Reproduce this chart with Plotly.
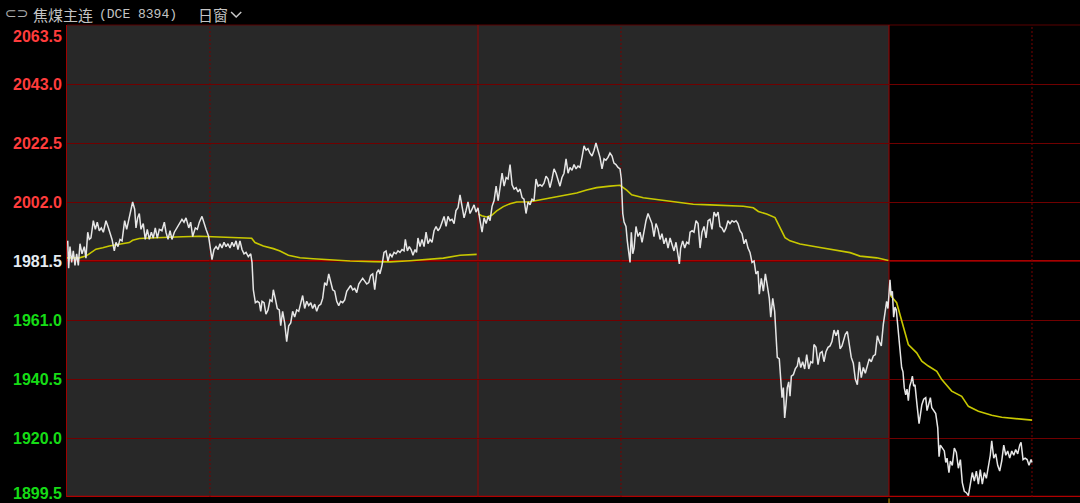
import plotly.graph_objects as go

# ---------------- data (minutes from first session open, price) ----------------
price_t = [0.6,1.4,2.5,3.9,5.3,6.7,8.1,9.5,10.9,12.6,14.5,15.9,17.4,18.7,20.1,22.1,23.8,25.4,27.1,28.8,
 30.5,32.7,34.4,36.1,37.8,39.7,41.1,42.8,44.5,46.2,48.4,50.1,51.8,53.7,55.1,56.8,57.9,59.3,60.7,62.1,
 64.0,65.7,67.4,69.1,70.8,72.4,74.1,75.8,77.5,79.7,81.7,83.1,84.8,86.5,88.1,90.1,92.1,94.3,96.5,98.2,
 99.9,102.2,103.8,105.5,107.7,109.4,111.1,113.3,115.0,116.7,118.9,120.6,121.7,123.4,125.1,126.8,128.4,130.1,131.8,133.5,
 135.1,136.8,138.5,140.2,141.9,143.5,145.2,146.9,148.6,150.3,152.2,154.2,155.3,156.4,158.1,159.7,161.4,162.6,163.7,165.4,
 167.0,168.7,170.4,172.1,173.2,174.8,176.5,178.2,179.4,181.0,182.7,184.4,186.1,187.8,189.4,191.1,192.8,194.5,196.2,197.8,
 199.5,201.2,202.9,204.6,206.2,207.9,209.6,211.3,213.0,214.6,216.3,218.0,219.7,221.3,223.0,224.7,226.4,228.1,229.7,231.4,
 233.1,234.8,236.5,238.1,239.8,241.5,243.2,244.9,246.5,248.2,249.9,251.6,253.3,254.9,256.6,258.3,260.0,261.6,262.7,264.4,
 266.1,267.8,269.4,271.1,272.8,274.5,276.2,277.8,279.5,281.2,282.9,284.0,285.7,287.3,288.8,290.4,292.1,293.4,294.6,296.3,
 298.0,299.7,301.4,303.0,304.7,306.4,308.1,309.8,311.4,313.1,314.8,316.5,318.2,319.8,321.5,323.2,324.9,326.5,328.2,329.9,
 331.6,333.3,334.9,336.6,338.3,340.0,341.7,343.3,345.0,
 346.7,348.4,350.1,351.8,353.5,355.1,356.8,358.5,360.2,361.9,363.5,365.2,366.9,368.6,370.2,371.9,373.6,375.3,377.0,378.6,
 380.3,382.0,383.6,385.3,387.0,388.7,390.3,392.0,393.7,395.4,397.1,398.7,400.4,402.1,403.8,405.4,407.1,408.8,410.5,412.2,
 413.8,415.5,417.2,418.9,420.6,422.2,423.9,425.6,427.3,428.9,430.6,432.3,434.0,435.7,437.3,439.0,440.7,442.4,444.0,445.7,
 447.4,449.1,450.8,452.4,454.1,455.8,457.5,459.1,460.8,462.5,464.2,465.3,465.9,466.5,467.6,469.2,470.3,471.5,472.6,473.7,
 474.9,476.0,477.6,479.3,481.0,482.7,484.3,486.0,487.7,489.4,491.0,492.7,494.4,496.1,497.8,499.4,501.1,502.8,504.5,506.2,
 507.8,509.5,511.2,512.9,514.0,515.1,516.8,518.5,520.2,521.9,523.0,524.7,526.3,528.0,529.7,531.4,533.0,534.7,536.4,538.1,
 539.7,541.4,543.1,544.8,546.5,548.1,549.8,551.5,553.2,554.8,556.5,558.2,559.9,561.6,563.2,564.9,566.6,568.3,569.9,571.6,
 573.3,575.0,576.7,578.3,580.0,581.1,582.8,584.5,586.2,587.8,589.5,590.7,592.4,594.0,595.2,596.2,597.9,599.1,600.2,601.3,
 602.4,603.5,604.6,605.8,606.9,608.0,609.7,611.3,613.0,614.2,615.9,617.5,619.2,620.9,622.6,624.3,625.9,627.0,628.7,630.4,
 632.1,633.8,635.4,637.1,638.8,640.5,642.1,643.8,645.5,647.2,648.9,650.5,651.6,653.3,655.0,656.7,658.3,660.0,661.7,663.4,
 665.1,666.7,668.4,670.1,671.8,673.4,675.1,676.8,678.5,680.2,681.8,683.5,685.2,686.9,688.0,689.1,689.8,
 690.8,691.7,692.8,693.9,695.0,696.1,697.3,698.4,699.5,700.6,701.7,702.8,704.0,705.1,706.2,707.4,708.5,709.6,710.7,711.8,
 713.5,715.2,716.3,717.5,719.1,720.8,721.9,723.0,724.7,725.9,727.5,729.2,730.9,732.0,733.1,734.7,736.4,737.6,738.7,740.3,
 741.5,743.1,744.8,746.5,748.2,749.9,751.5,753.2,754.9,756.6,758.2,759.9,761.6,763.3,765.0,766.6,768.3,770.0,771.7,773.4,
 775.0,776.2,777.9,779.6,781.2,782.9,784.6,786.3,788.0,789.6,791.3,793.0,794.7,796.3,798.0,799.7,800.8,802.5,804.2,805.9,
 807.5,809.2,810.0]

price = [1988.5,1979.0,1986.5,1981.0,1985.0,1980.0,1984.0,1980.0,1987.5,1984.0,1986.5,1982.5,1991.5,1989.0,1989.5,1995.5,1992.5,1995.0,1992.0,1993.0,
 1991.5,1995.5,1993.5,1991.0,1989.0,1985.0,1988.0,1986.5,1989.0,1988.5,1995.5,1992.5,1996.0,1999.0,2002.0,1999.5,1993.0,1996.5,1998.0,1992.5,
 1994.5,1989.0,1992.5,1989.0,1991.5,1989.5,1993.0,1989.5,1992.5,1992.0,1995.0,1991.5,1989.0,1992.0,1989.0,1991.5,1993.0,1994.5,1996.0,1995.0,
 1996.5,1993.0,1995.0,1990.0,1993.0,1992.5,1995.0,1997.0,1994.5,1992.5,1990.0,1986.0,1982.0,1985.5,1986.5,1985.5,1987.5,1986.0,1988.0,1986.5,
 1987.5,1986.0,1988.0,1986.5,1988.5,1985.5,1988.5,1985.5,1984.0,1984.5,1983.0,1984.0,1981.0,1971.5,1967.0,1967.5,1967.0,1964.0,1967.5,1967.0,
 1963.0,1964.5,1968.0,1967.5,1971.5,1968.5,1965.0,1964.5,1959.0,1964.0,1960.0,1953.5,1959.0,1960.0,1964.0,1962.0,1964.5,1964.0,1967.0,1969.5,
 1965.0,1967.5,1966.0,1967.0,1965.0,1966.5,1964.0,1966.0,1966.5,1968.5,1974.0,1973.0,1977.0,1974.5,1971.5,1971.0,1967.5,1966.0,1967.5,1967.0,
 1968.0,1971.0,1972.0,1973.0,1971.5,1972.0,1970.5,1973.5,1974.5,1975.5,1974.5,1973.5,1974.0,1976.5,1977.0,1971.5,1977.5,1978.5,1977.0,1980.0,
 1984.5,1985.0,1981.5,1984.0,1983.0,1984.5,1984.0,1985.0,1984.5,1985.5,1985.0,1989.0,1985.0,1986.5,1985.5,1983.5,1985.5,1984.5,1989.5,1986.5,
 1989.0,1986.5,1991.5,1987.5,1989.0,1988.0,1992.0,1993.5,1992.0,1993.0,1995.0,1997.0,1993.5,1997.0,1995.5,1996.0,1994.5,1999.0,2000.0,2004.5,
 2000.5,1996.5,1999.0,2002.0,1998.0,1999.5,2001.0,1998.5,2000.0,
 1995.5,1991.5,1996.5,1994.5,1997.0,1995.5,2000.5,2002.5,2007.5,2002.5,2007.0,2012.0,2007.5,2010.5,2010.0,2015.0,2008.0,2006.5,2007.0,2005.5,
 2006.5,2003.5,2003.0,1998.0,2002.0,2001.0,2003.0,2002.5,2010.0,2007.5,2008.0,2007.5,2008.5,2011.0,2010.0,2007.0,2010.0,2013.5,2012.0,2009.5,
 2007.5,2010.5,2012.0,2017.0,2012.0,2014.0,2013.0,2015.0,2013.5,2014.5,2014.0,2017.5,2021.5,2020.0,2020.5,2019.0,2018.0,2020.0,2022.5,2020.0,
 2017.5,2013.5,2017.0,2016.5,2017.5,2019.0,2018.0,2015.5,2015.0,2014.0,2013.5,2010.0,2002.0,1998.0,1995.0,1993.5,1988.5,1984.5,1981.0,1991.5,
 1984.0,1986.0,1993.5,1990.0,1991.5,1988.0,1992.0,1995.5,1998.0,1996.0,1994.5,1990.0,1994.5,1992.5,1989.0,1991.0,1987.5,1989.5,1986.0,1989.5,
 1987.5,1985.0,1988.0,1984.0,1980.5,1986.0,1988.5,1986.0,1988.0,1987.5,1991.5,1992.0,1991.5,1995.5,1994.5,1986.0,1991.5,1993.5,1989.5,1995.5,
 1996.0,1992.5,1998.5,1997.0,1998.5,1993.5,1993.0,1991.5,1993.0,1995.5,1994.5,1995.5,1995.0,1995.5,1994.5,1992.0,1991.0,1987.5,1989.0,1986.0,
 1984.5,1981.0,1981.5,1977.0,1978.0,1970.0,1975.5,1971.0,1977.0,1973.0,1968.5,1962.0,1968.5,1964.0,1954.5,1948.0,1947.5,1941.0,1934.0,1937.5,
 1927.0,1931.5,1937.5,1939.5,1934.5,1941.5,1942.0,1944.0,1945.0,1948.0,1944.5,1946.5,1944.0,1949.0,1944.0,1946.5,1946.0,1952.5,1951.5,1945.5,
 1949.5,1950.0,1946.5,1950.0,1951.5,1952.0,1953.5,1957.5,1955.5,1957.5,1951.0,1952.0,1953.5,1956.0,1957.0,1953.0,1948.0,1946.0,1940.5,1938.5,
 1946.5,1941.0,1944.5,1942.5,1945.5,1947.5,1946.5,1948.5,1949.0,1955.5,1953.5,1952.0,1959.5,1964.5,1967.5,1965.0,1969.5,
 1975.0,1969.5,1971.0,1962.0,1965.5,1964.5,1959.5,1953.0,1950.0,1944.5,1943.0,1937.5,1935.0,1937.0,1933.0,1938.0,1939.5,1941.5,1938.0,1938.5,
 1931.5,1925.0,1928.0,1931.5,1933.5,1934.0,1929.5,1931.5,1934.0,1930.5,1929.5,1928.5,1923.5,1913.5,1917.5,1916.5,1915.5,1911.5,1913.0,1908.0,
 1912.0,1910.5,1916.5,1915.0,1909.5,1912.5,1904.5,1901.5,1901.0,1900.0,1904.0,1908.0,1905.0,1908.5,1904.0,1909.0,1904.0,1908.0,1906.0,1910.5,
 1914.0,1919.0,1913.0,1914.5,1910.5,1908.5,1912.0,1917.5,1914.0,1915.5,1913.0,1915.5,1914.0,1916.0,1914.5,1917.5,1918.5,1912.5,1913.0,1912.5,
 1910.5,1912.5,1911.5]

# session average price lines (reset each session)
avg1_t = [0,10.3,15.9,20.1,24.3,30.0,35.5,43.9,52.3,55.1,60.7,69.1,83.1,97.1,111.1,119.4,133.5,150.3,155.0,157.8,
          164.8,173.2,178.8,185.8,195.6,206.7,223.5,237.6,257.1,271.1,287.9,304.7,315.9,329.9,343.9]
avg1 = [1982.6,1982.6,1983.2,1984.4,1985.6,1986.1,1986.7,1987.3,1987.9,1988.7,1989.3,1989.5,1989.6,1989.9,1990.1,1990.0,1989.6,1989.5,1989.4,1987.9,
        1986.7,1985.8,1985.0,1983.5,1982.6,1982.3,1981.8,1981.5,1981.3,1981.2,1981.6,1982.1,1982.5,1983.5,1983.8]
avg2_t = [345.2,348.1,352.3,356.5,360.7,366.2,371.9,377.5,388.6,399.8,413.8,427.8,436.2,444.6,455.8,462.8,464.2,469.8,474.0,483.7,
          497.8,511.8,525.7,539.7,553.8,567.7,576.1,580.3,587.3,594.3,598.5,602.7,606.9,615.3,632.1,657.3,665.6,679.7,689.5]
avg2 = [1997.8,1997.2,1996.8,1997.4,1998.9,2000.4,2001.4,2002.0,2002.1,2003.0,2004.1,2005.1,2006.2,2007.0,2007.5,2007.8,2007.8,2006.1,2004.5,2003.5,
        2002.7,2001.8,2001.2,2001.0,2000.7,2000.5,2000.0,1998.7,1997.8,1996.6,1993.1,1989.6,1988.5,1987.4,1986.2,1984.4,1983.2,1982.6,1981.7]
avg3_t = [690.8,691.7,696.4,699.2,701.9,706.2,713.2,717.5,723.0,730.1,734.3,742.6,751.0,756.6,765.0,776.2,784.6,798.5,810.0]
avg3 = [1971.8,1969.3,1967.0,1962.9,1958.3,1952.5,1949.6,1946.7,1945.0,1943.2,1940.3,1936.3,1934.5,1931.0,1929.3,1927.9,1927.2,1926.7,1926.2]

y_ticks = [1899.5, 1920.0, 1940.5, 1961.0, 1981.5, 2002.0, 2022.5, 2043.0, 2063.5]
prev_close = 1981.5
session_bounds = [345, 690]
night_ends = [120, 465, 810]
shaded_until = 690
x_max = 850.3

title_name = "焦煤主连"
title_code = "(DCE 8394)"
title_period = "日窗"

# ---------------- figure ----------------
fig = go.Figure()

avg_x, avg_y = [], []
for t, v in ((avg1_t, avg1), (avg2_t, avg2), (avg3_t, avg3)):
    avg_x += t + [None]
    avg_y += v + [None]

fig.add_trace(go.Scatter(x=avg_x, y=avg_y, mode="lines", connectgaps=False,
                         line=dict(color="#c8c800", width=1.6), hoverinfo="skip"))
fig.add_trace(go.Scatter(x=price_t, y=price, mode="lines",
                         line=dict(color="#e6e6e6", width=1.5), hoverinfo="skip"))

shapes = []
shapes.append(dict(type="rect", xref="x", yref="paper", x0=0, x1=shaded_until, y0=0, y1=1,
                   fillcolor="#282828", line=dict(width=0), layer="below"))
shapes.append(dict(type="line", xref="paper", yref="y", x0=0, x1=1, y0=prev_close, y1=prev_close,
                   line=dict(color="#a80000", width=2.2), layer="between"))
shapes.append(dict(type="line", xref="paper", yref="y", x0=0, x1=1, y0=y_ticks[0], y1=y_ticks[0],
                   line=dict(color="#b00000", width=2.5), layer="between"))
shapes.append(dict(type="line", xref="paper", yref="paper", x0=0, x1=1, y0=1, y1=1,
                   line=dict(color="#5a0000", width=1), layer="between"))
for b in session_bounds:
    shapes.append(dict(type="line", xref="x", yref="paper", x0=b, x1=b, y0=0, y1=1,
                       line=dict(color="#9a0000", width=1), layer="between"))
for n in night_ends:
    shapes.append(dict(type="line", xref="x", yref="paper", x0=n, x1=n, y0=0, y1=1,
                       line=dict(color="#7a0000", width=1, dash="2px,2px"), layer="between"))
shapes.append(dict(type="path", xref="paper", yref="paper",
                   path="M 0.1620 1.0275 L 0.1670 1.0170 L 0.1720 1.0275",
                   line=dict(color="#c8c8c8", width=1.5)))
shapes.append(dict(type="line", xref="x", yref="paper", x0=shaded_until, x1=shaded_until, y0=-0.003, y1=-0.02,
                   line=dict(color="#d0a000", width=1)))

annotations = []
for v in y_ticks:
    if v > prev_close:
        col = "#ff3c3c"
    elif v < prev_close:
        col = "#16dc16"
    else:
        col = "#e4eaf0"
    if v == y_ticks[-1]:
        ys = -11
    elif v == y_ticks[0]:
        ys = 4
    else:
        ys = 0
    annotations.append(dict(xref="paper", yref="y", x=0, y=v, text=f"<b>{v:.1f}</b>", showarrow=False,
                            xanchor="right", yanchor="middle", xshift=-3, yshift=ys,
                            font=dict(family="Liberation Sans, Arial", size=16, color=col)))

annotations.append(dict(xref="paper", yref="paper", x=0, y=1, xshift=-64, yshift=12, xanchor="left",
                        yanchor="middle", text="⊂⊃", showarrow=False,
                        font=dict(family="DejaVu Sans", size=14, color="#b0b0b0")))
annotations.append(dict(xref="paper", yref="paper", x=0, y=1, xshift=-36, yshift=11, xanchor="left",
                        yanchor="middle", text=title_name, showarrow=False,
                        font=dict(family="Noto Sans CJK SC", size=15, color="#c4c4c4")))
annotations.append(dict(xref="paper", yref="paper", x=0, y=1, xshift=30, yshift=11, xanchor="left",
                        yanchor="middle", text=title_code, showarrow=False,
                        font=dict(family="Liberation Mono", size=13, color="#c4c4c4")))
annotations.append(dict(xref="paper", yref="paper", x=0, y=1, xshift=129, yshift=11, xanchor="left",
                        yanchor="middle", text=title_period, showarrow=False,
                        font=dict(family="Noto Sans CJK SC", size=15, color="#c4c4c4")))

fig.update_layout(
    width=1080, height=503,
    margin=dict(l=67, r=0, t=25, b=6, pad=0),
    paper_bgcolor="black", plot_bgcolor="black",
    showlegend=False,
    shapes=shapes, annotations=annotations,
    xaxis=dict(range=[0, x_max], showgrid=False, zeroline=False, showticklabels=False,
               ticks="", showline=False, fixedrange=True),
    yaxis=dict(range=[y_ticks[0], y_ticks[-1]], tickvals=y_ticks, showgrid=True,
               gridcolor="#700000", gridwidth=1, zeroline=False, showticklabels=False,
               ticks="", showline=True, linecolor="#a00000", linewidth=1, fixedrange=True),
)

fig.write_html("out.html", config={"displayModeBar": False},
               post_script="document.body.style.margin='0';document.body.style.overflow='hidden';")
